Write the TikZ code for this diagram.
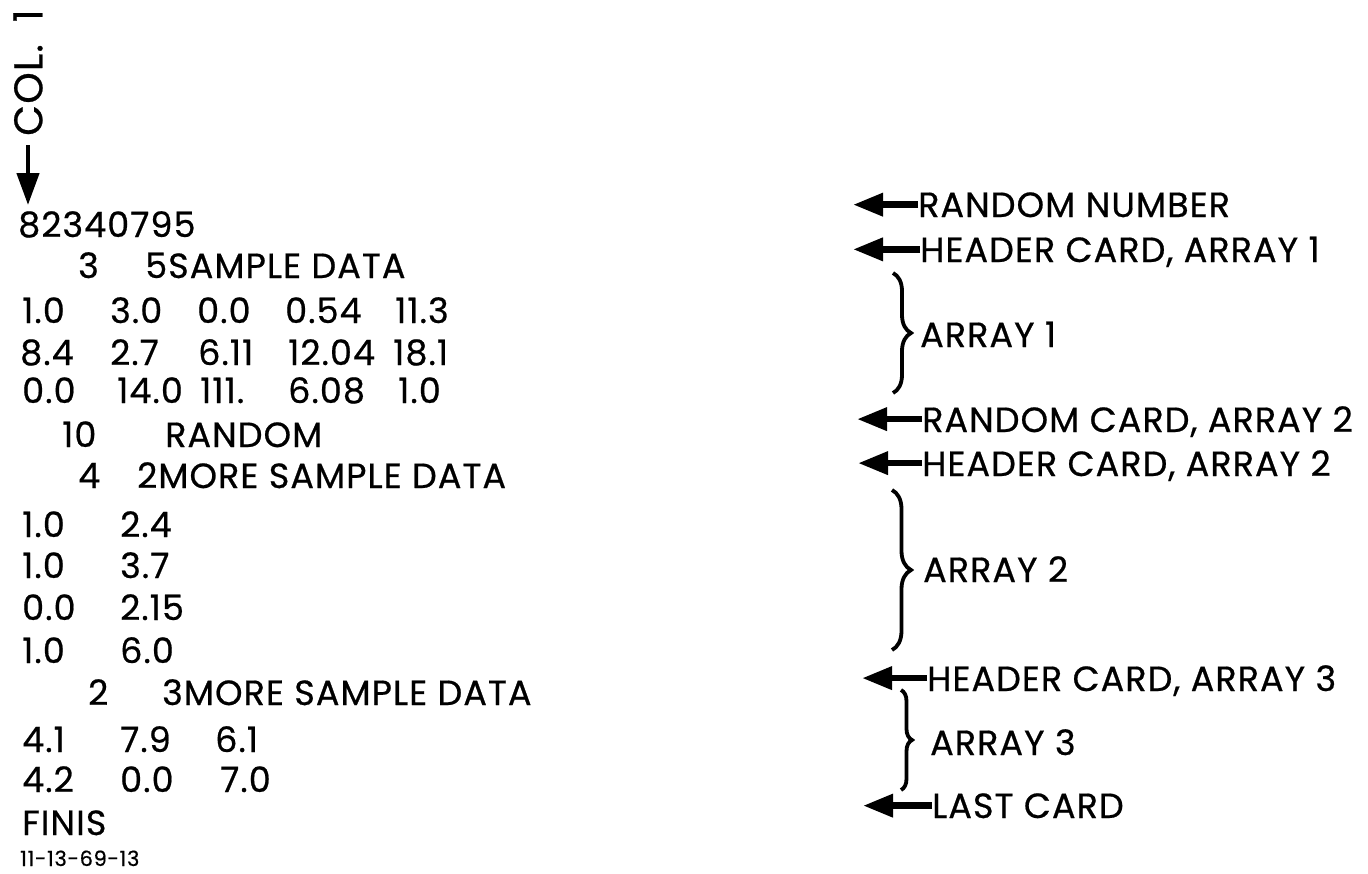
\documentclass[tikz,border=0pt]{standalone}
\usepackage{fontspec}
\setmainfont{Poppins}[LetterSpace=3,Numbers=Monospaced,FakeBold=0.6]
\usetikzlibrary{arrows.meta,decorations.pathreplacing}
\begin{document}
\begin{tikzpicture}[x=1pt,y=-1pt,
  t/.style={anchor=base west,inner sep=0pt,font=\fontsize{35}{40}\selectfont},
  r/.style={anchor=base west,inner sep=0pt,text depth=0pt,font=\fontsize{35}{40}\selectfont},
  small/.style={anchor=base west,inner sep=0pt,font=\fontsize{21}{24}\selectfont},
  cardarrow/.style={line width=6.5pt,-{Triangle[length=30pt,width=22pt]}},
  colarrow/.style={line width=4.5pt,-{Triangle[length=32pt,width=22pt]}},
  brc/.style={decorate,decoration={brace,amplitude=#1},line width=3.8pt}]
\useasboundingbox (0,0) rectangle (1368,873);

% column marker
\node[rotate=90,anchor=west,inner sep=0pt,font=\fontsize{40}{44}\selectfont] (col) at (28,136) {COL.\hspace{0.55em}1};
\coordinate (coltip) at (28,205);
\draw[colarrow,shorten <=9pt] (col.west) -- (coltip);

% card deck listing
\node[t] (n0) at (18,237) {82340795};
\node[t] (h1a) at (78,278) {3};
\node[t] (h1b) at (145,278) {5SAMPLE DATA};
\node[t] (r11) at (22,323) {1.0};
\node[t] (r12) at (110,323) {3.0};
\node[t] (r13) at (197,323) {0.0};
\node[t] (r14) at (285,323) {0.54};
\node[t] (r15) at (395,323) {11.3};
\node[t] (r21) at (20,365) {8.4};
\node[t] (r22) at (110,365) {2.7};
\node[t] (r23) at (198,365) {6.11};
\node[t] (r24) at (288,365) {12.04};
\node[t] (r25) at (393,365) {18.1};
\node[t] (r31) at (22,403) {0.0};
\node[t] (r32) at (117,403) {14.0};
\node[t] (r33) at (200,403) {111.};
\node[t] (r34) at (288,403) {6.08};
\node[t] (r35) at (398,403) {1.0};
\node[t] (rda) at (62,447) {10};
\node[t] (rdb) at (165,447) {RANDOM};
\node[t] (h2a) at (78,488) {4};
\node[t] (h2b) at (137,488) {2MORE SAMPLE DATA};
\node[t] (s11) at (22,537) {1.0};
\node[t] (s12) at (120,537) {2.4};
\node[t] (s21) at (22,578) {1.0};
\node[t] (s22) at (120,578) {3.7};
\node[t] (s31) at (22,620) {0.0};
\node[t] (s32) at (120,620) {2.15};
\node[t] (s41) at (22,663) {1.0};
\node[t] (s42) at (120,663) {6.0};
\node[t] (h3a) at (88,705) {2};
\node[t] (h3b) at (162,705) {3MORE SAMPLE DATA};
\node[t] (u11) at (22,752) {4.1};
\node[t] (u12) at (120,752) {7.9};
\node[t] (u13) at (215,752) {6.1};
\node[t] (u21) at (22,792) {4.2};
\node[t] (u22) at (120,792) {0.0};
\node[t] (u23) at (220,792) {7.0};
\node[t] (fin) at (22,835) {FINIS};
\node[small] (fig) at (20,866) {11-13-69-13};

% annotations
\node[r] (lrn) at (918,217) {RANDOM NUMBER};
\node[r] (lh1) at (920,262) {HEADER CARD, ARRAY 1};
\node[r] (la1) at (920,347) {ARRAY 1};
\node[r] (lr2) at (922,432) {RANDOM CARD, ARRAY 2};
\node[r] (lh2) at (922,476) {HEADER CARD, ARRAY 2};
\node[r] (la2) at (923,582) {ARRAY 2};
\node[r] (lh3) at (927,691) {HEADER CARD, ARRAY 3};
\node[r] (la3) at (930,755) {ARRAY 3};
\node[r] (llc) at (932,818) {LAST CARD};

\coordinate (trn) at (853,0);
\coordinate (th1) at (853,0);
\coordinate (tr2) at (857,0);
\coordinate (th2) at (858,0);
\coordinate (th3) at (862,0);
\coordinate (tlc) at (863,0);
\draw[cardarrow] (lrn.west) -- (lrn.west -| trn);
\draw[cardarrow] (lh1.west) -- (lh1.west -| th1);
\draw[cardarrow] (lr2.west) -- (lr2.west -| tr2);
\draw[cardarrow] (lh2.west) -- (lh2.west -| th2);
\draw[cardarrow] (lh3.west) -- (lh3.west -| th3);
\draw[cardarrow] (llc.west) -- (llc.west -| tlc);

% braces
\coordinate (b1t) at (893,273); \coordinate (b1b) at (893,393);
\coordinate (b2t) at (892,490); \coordinate (b2b) at (892,650);
\coordinate (b3t) at (901,690); \coordinate (b3b) at (901,790);
\draw[brc=18pt] (b1t) -- (b1b);
\draw[brc=19pt] (b2t) -- (b2b);
\draw[brc=11pt] (b3t) -- (b3b);
\end{tikzpicture}
\end{document}
